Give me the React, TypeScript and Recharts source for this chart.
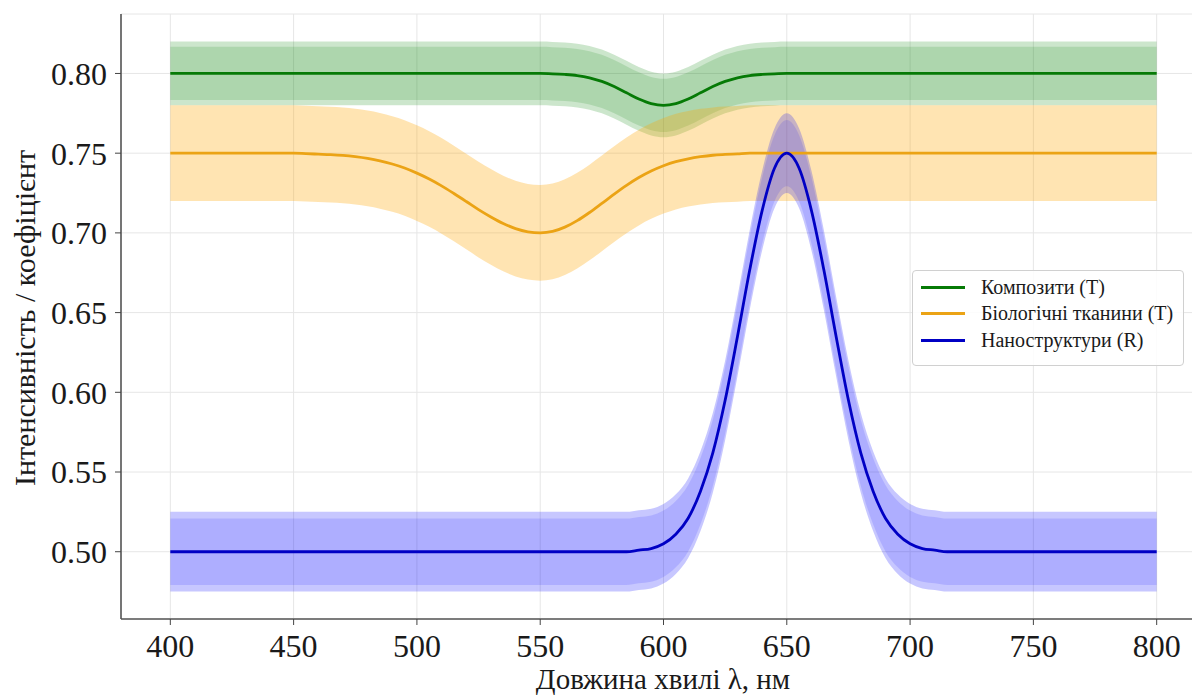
import {
  ComposedChart,
  Area,
  Line,
  XAxis,
  YAxis,
  CartesianGrid,
  Label,
} from 'recharts';

// wavelength grid, nm
const wavelengths = [
  400, 405, 410, 415, 420, 425, 430, 435, 440, 445,
  450, 455, 460, 465, 470, 475, 480, 485, 490, 495,
  500, 505, 510, 515, 520, 525, 530, 535, 540, 545,
  550, 555, 560, 565, 570, 575, 580, 585, 590, 595,
  600, 605, 610, 615, 620, 625, 630, 635, 640, 645,
  650, 655, 660, 665, 670, 675, 680, 685, 690, 695,
  700, 705, 710, 715, 720, 725, 730, 735, 740, 745,
  750, 755, 760, 765, 770, 775, 780, 785, 790, 795,
  800,
];

// Композити (T)
const composites = [
  0.8, 0.8, 0.8, 0.8, 0.8, 0.8, 0.8, 0.8, 0.8, 0.8,
  0.8, 0.8, 0.8, 0.8, 0.8, 0.8, 0.8, 0.8, 0.8, 0.8,
  0.8, 0.8, 0.8, 0.8, 0.8, 0.8, 0.8, 0.8, 0.8, 0.8,
  0.8, 0.7998, 0.7994, 0.7987, 0.7973, 0.795, 0.7918, 0.7879, 0.784, 0.7811,
  0.78, 0.7811, 0.784, 0.7879, 0.7918, 0.795, 0.7973, 0.7987, 0.7994, 0.7998,
  0.8, 0.8, 0.8, 0.8, 0.8, 0.8, 0.8, 0.8, 0.8, 0.8,
  0.8, 0.8, 0.8, 0.8, 0.8, 0.8, 0.8, 0.8, 0.8, 0.8,
  0.8, 0.8, 0.8, 0.8, 0.8, 0.8, 0.8, 0.8, 0.8, 0.8,
  0.8,
];

// Біологічні тканини (T)
const tissues = [
  0.75, 0.75, 0.75, 0.75, 0.75, 0.75, 0.75, 0.75, 0.75, 0.75,
  0.75, 0.7497, 0.7494, 0.7491, 0.7486, 0.7478, 0.7467, 0.7452, 0.7432, 0.7407,
  0.7375, 0.7338, 0.7295, 0.7247, 0.7197, 0.7146, 0.71, 0.7059, 0.7027, 0.7007,
  0.7, 0.7009, 0.7036, 0.7077, 0.7128, 0.7185, 0.7243, 0.7298, 0.7347, 0.7388,
  0.7421, 0.7447, 0.7465, 0.7478, 0.7487, 0.7492, 0.7496, 0.75, 0.75, 0.75,
  0.75, 0.75, 0.75, 0.75, 0.75, 0.75, 0.75, 0.75, 0.75, 0.75,
  0.75, 0.75, 0.75, 0.75, 0.75, 0.75, 0.75, 0.75, 0.75, 0.75,
  0.75, 0.75, 0.75, 0.75, 0.75, 0.75, 0.75, 0.75, 0.75, 0.75,
  0.75,
];

// Наноструктури (R)
const nano = [
  0.5, 0.5, 0.5, 0.5, 0.5, 0.5, 0.5, 0.5, 0.5, 0.5,
  0.5, 0.5, 0.5, 0.5, 0.5, 0.5, 0.5, 0.5, 0.5, 0.5,
  0.5, 0.5, 0.5, 0.5, 0.5, 0.5, 0.5, 0.5, 0.5, 0.5,
  0.5, 0.5, 0.5, 0.5, 0.5, 0.5, 0.5, 0.5, 0.501, 0.502,
  0.505, 0.511, 0.521, 0.538, 0.562, 0.595, 0.635, 0.677, 0.714, 0.7405,
  0.75, 0.7405, 0.714, 0.677, 0.635, 0.595, 0.562, 0.538, 0.521, 0.511,
  0.505, 0.502, 0.501, 0.5, 0.5, 0.5, 0.5, 0.5, 0.5, 0.5,
  0.5, 0.5, 0.5, 0.5, 0.5, 0.5, 0.5, 0.5, 0.5, 0.5,
  0.5,
];

// half widths of the shaded bands (outer / inner)
const compositesSpread = [0.02, 0.0167];
const tissuesSpread = [0.03];
const nanoSpread = [0.025, 0.0208];

const xTicks = [400, 450, 500, 550, 600, 650, 700, 750, 800];
const yTicks = [0.5, 0.55, 0.6, 0.65, 0.7, 0.75, 0.8];

const series = [
  { key: 'comp', name: 'Композити (T)', color: '#067a06', fill: '#008000', opacity: [0.2, 0.15] },
  { key: 'bio', name: 'Біологічні тканини (T)', color: '#eba315', fill: '#ffa500', opacity: [0.3] },
  { key: 'nano', name: 'Наноструктури (R)', color: '#0000c4', fill: '#0000ff', opacity: [0.22, 0.12] },
];

const FONT = '"Liberation Serif", "Times New Roman", serif';

const data = wavelengths.map((wl, i) => {
  const row: Record<string, number | number[]> = { wl };
  row.comp = composites[i];
  row.bio = tissues[i];
  row.nano = nano[i];
  compositesSpread.forEach((s, j) => (row['comp_b' + j] = [composites[i] - s, composites[i] + s]));
  tissuesSpread.forEach((s, j) => (row['bio_b' + j] = [tissues[i] - s, tissues[i] + s]));
  nanoSpread.forEach((s, j) => (row['nano_b' + j] = [nano[i] - s, nano[i] + s]));
  return row;
});

function ChartLegend() {
  return (
    <div
      style={{
        position: 'absolute',
        left: 912,
        top: 270,
        width: 272,
        height: 96,
        boxSizing: 'border-box',
        border: '1px solid #d0d0d0',
        borderRadius: 4,
        background: 'rgba(255,255,255,0.85)',
        fontFamily: FONT,
        fontSize: 20,
        color: '#1a1a1a',
        paddingTop: 3,
      }}
    >
      {series.map((s) => (
        <div key={s.key} style={{ display: 'flex', alignItems: 'center', height: 26.5 }}>
          <div style={{ width: 44, height: 3, background: s.color, marginLeft: 8, marginRight: 16 }} />
          <span style={{ whiteSpace: 'nowrap' }}>{s.name}</span>
        </div>
      ))}
    </div>
  );
}

export default function App() {
  return (
    <div
      style={{
        position: 'absolute',
        left: 0,
        top: 0,
        width: 1192,
        height: 697,
        overflow: 'hidden',
        background: '#fff',
      }}
    >
      <ComposedChart
        width={1206}
        height={697}
        data={data}
        margin={{ top: 14, right: 0, bottom: 0, left: 0 }}
        style={{ fontFamily: FONT }}
      >
        <CartesianGrid stroke="#e6e6e6" strokeWidth={1} />
        <XAxis
          dataKey="wl"
          type="number"
          domain={[380, 820]}
          ticks={xTicks}
          allowDataOverflow
          height={78}
          tickSize={6}
          tickMargin={9}
          stroke="#444"
          tick={{ fill: '#1a1a1a', fontSize: 32 }}
          axisLine={{ stroke: '#555', strokeWidth: 1.6 }}
        >
          <Label
            content={() => (
              <text x={663} y={689} textAnchor="middle" fontSize={29} fill="#1a1a1a" fontFamily={FONT}>
                Довжина хвилі λ, нм
              </text>
            )}
          />
        </XAxis>
        <XAxis
          xAxisId="top"
          orientation="top"
          type="number"
          domain={[380, 820]}
          height={0}
          tick={false}
          tickLine={false}
          axisLine={{ stroke: '#555', strokeWidth: 1.6 }}
        />
        <YAxis
          type="number"
          domain={[0.4578, 0.8373]}
          ticks={yTicks}
          allowDataOverflow
          width={121}
          tickSize={6}
          tickMargin={8}
          stroke="#444"
          tickFormatter={(v: number) => v.toFixed(2)}
          tick={{ fill: '#1a1a1a', fontSize: 32 }}
          axisLine={{ stroke: '#555', strokeWidth: 1.6 }}
        >
          <Label
            content={() => (
              <text
                x={24}
                y={318}
                transform="rotate(-90 24 318)"
                textAnchor="middle"
                dominantBaseline="central"
                fontSize={30}
                fill="#1a1a1a"
                fontFamily={FONT}
              >
                Інтенсивність / коефіцієнт
              </text>
            )}
          />
        </YAxis>

        {series.map((s) => [
          ...s.opacity.map((op, j) => (
            <Area
              key={s.key + '_b' + j}
              dataKey={s.key + '_b' + j}
              type="monotone"
              stroke="none"
              fill={s.fill}
              fillOpacity={op}
              isAnimationActive={false}
              activeDot={false}
            />
          )),
          <Line
            key={s.key}
            dataKey={s.key}
            name={s.name}
            type="monotone"
            stroke={s.color}
            strokeWidth={2.8}
            dot={false}
            activeDot={false}
            isAnimationActive={false}
          />,
        ])}
      </ComposedChart>
      <ChartLegend />
    </div>
  );
}
